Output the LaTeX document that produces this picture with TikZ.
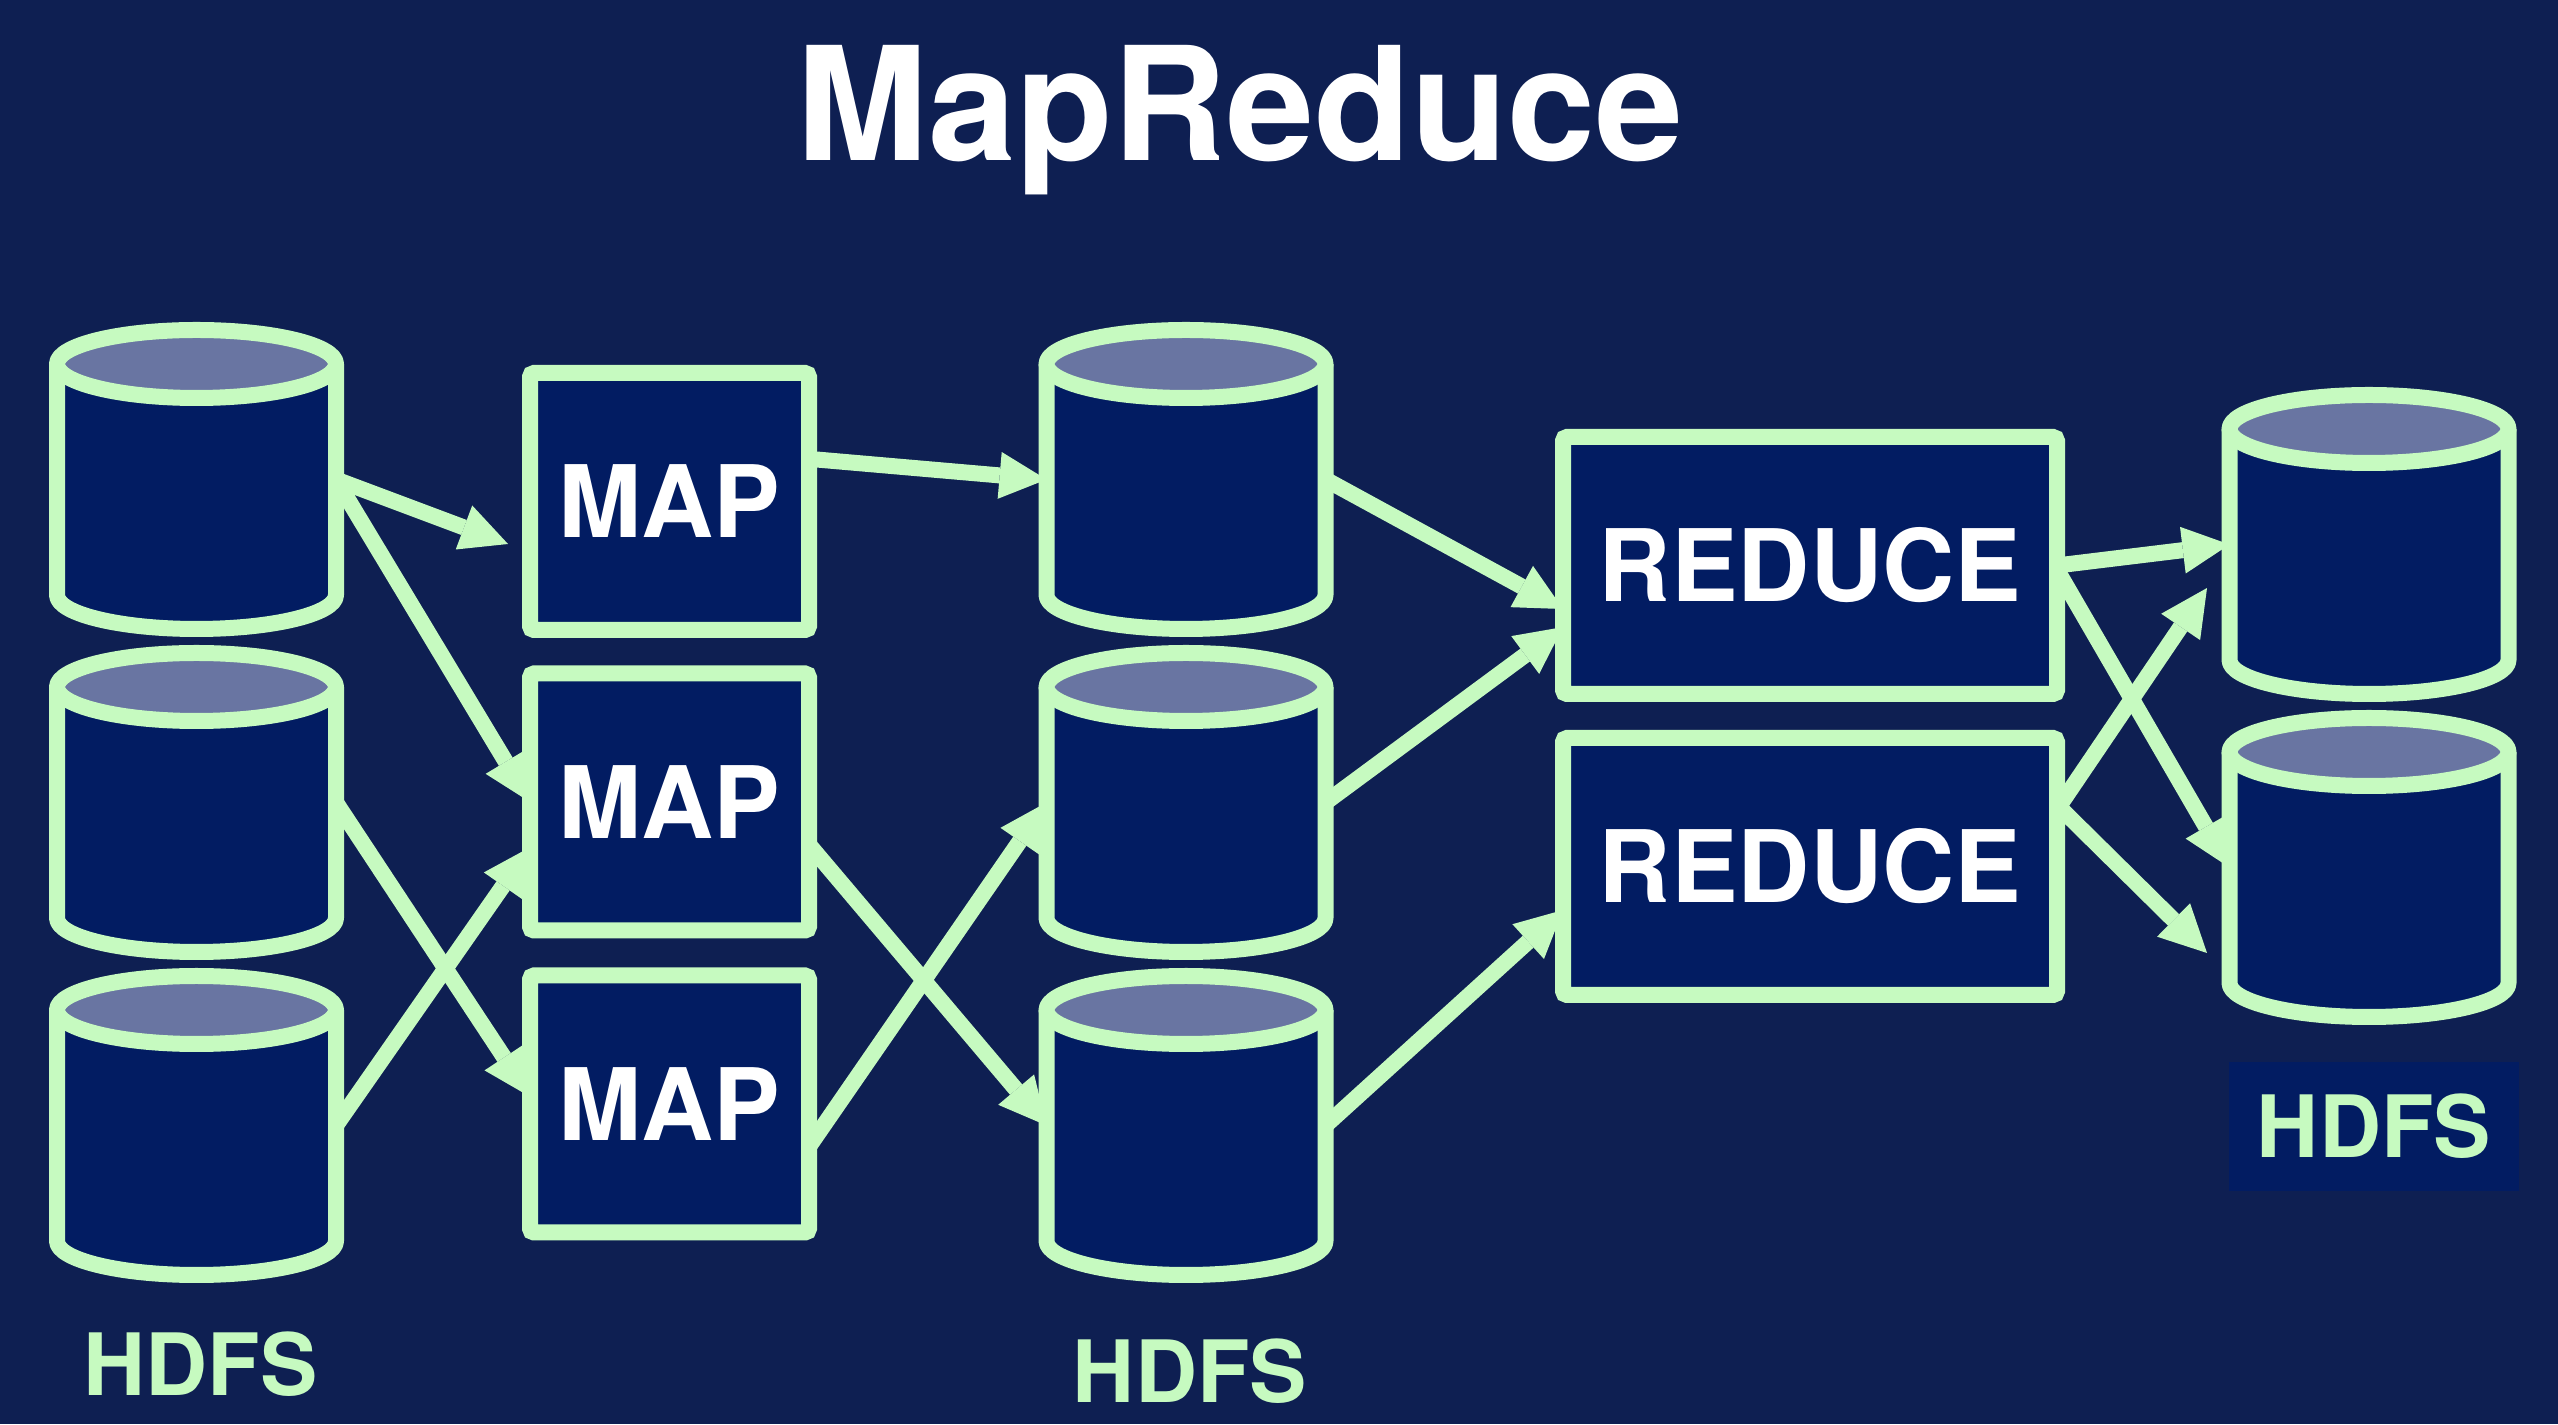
\documentclass[tikz,border=0pt]{standalone}
\usepackage{fontspec}
\setmainfont{TeX Gyre Heros}
\usetikzlibrary{arrows.meta}
\definecolor{bg}{HTML}{0E1F52}
\definecolor{bodyc}{HTML}{021C62}
\definecolor{topc}{HTML}{6975A2}
\definecolor{mint}{HTML}{C6FAC0}
\pgfdeclarelayer{bglayer}
\pgfdeclarelayer{arrlayer}
\pgfsetlayers{bglayer,arrlayer,main}
\tikzset{
  cylline/.style={draw=mint,line width=16pt,line join=round},
  cylbody/.style={rectangle,inner sep=0pt,outer sep=0pt,minimum width=279pt,minimum height=231pt},
  procbox/.style={rectangle,draw=mint,fill=bodyc,line width=16pt,rounded corners=4pt,inner sep=0pt,outer sep=0pt,minimum height=257pt,text=white,font=\fontsize{100}{100}\selectfont\bfseries},
  hdfslabel/.style={inner sep=0pt,text=mint,font=\fontsize{86}{86}\selectfont\bfseries},
  flow/.style={draw=mint,line width=16pt,-{Triangle[length=47pt,width=47pt,line width=0pt]}}
}
\newcommand\dbcyl[3]{%
  \fill[bodyc] (#2-139.5,#3) -- (#2-139.5,#3-231) arc[start angle=180,end angle=360,x radius=139.5pt,y radius=34pt] -- (#2+139.5,#3) -- cycle;
  \draw[cylline] (#2-139.5,#3) -- (#2-139.5,#3-231) arc[start angle=180,end angle=360,x radius=139.5pt,y radius=34pt] -- (#2+139.5,#3);
  \filldraw[cylline,fill=topc] (#2,#3) ellipse[x radius=139.5pt,y radius=34pt];
  \node[cylbody] (#1) at (#2,#3-115.5) {};
}
\begin{document}
\begin{tikzpicture}[x=1pt,y=1pt]
\useasboundingbox (0,0) rectangle (2558,1424);
\begin{pgfonlayer}{bglayer}
  \fill[bg] (0,0) rectangle (2558,1424);
\end{pgfonlayer}

% title
\node[anchor=base,inner sep=0pt,text=white,font=\fontsize{158}{158}\selectfont\bfseries] (title) at (1240,1263) {MapReduce};

% input HDFS cylinders
\dbcyl{cl1}{196.5}{1060}
\dbcyl{cl2}{196.5}{737}
\dbcyl{cl3}{196.5}{414}
% intermediate HDFS cylinders
\dbcyl{cm1}{1186}{1060}
\dbcyl{cm2}{1186}{737}
\dbcyl{cm3}{1186}{414}
% output HDFS cylinders
\dbcyl{cr1}{2369}{995}
\dbcyl{cr2}{2369}{672}

% MAP boxes
\node[procbox,minimum width=279pt] (map1) at (669.5,922.5) {MAP};
\node[procbox,minimum width=279pt] (map2) at (669.5,622) {MAP};
\node[procbox,minimum width=279pt] (map3) at (669.5,320) {MAP};
% REDUCE boxes
\node[procbox,minimum width=494pt] (red1) at (1810,858.5) {REDUCE};
\node[procbox,minimum width=494pt] (red2) at (1810,557.5) {REDUCE};

% labels
\node[hdfslabel,anchor=base] (h1) at (200.5,29) {HDFS};
\node[hdfslabel,anchor=base] (h2) at (1190,22) {HDFS};
\node[hdfslabel,fill=bodyc,minimum width=290pt,minimum height=129pt] (h3) at (2374,297.5) {HDFS};

% free arrow ends
\coordinate (m1in) at (508,880);
\coordinate (r1in) at (2207,836);
\coordinate (r2in) at (2207,471);

\begin{pgfonlayer}{arrlayer}
  \draw[flow] (cl1.east) -- (m1in);
  \draw[flow] (cl1.east) -- (map2.west);
  \draw[flow] (cl2.east) -- (map3.177.5);
  \draw[flow] (cl3.east) -- (map2.198.25);
  \draw[flow] (map1.17) -- (cm1.west);
  \draw[flow] (map2.-17.5) -- (cm3.west);
  \draw[flow] (map3.-17) -- (cm2.west);
  \draw[flow] (cm1.east) -- (red1.190);
  \draw[flow] (cm2.east) -- (red1.194.4);
  \draw[flow] (cm3.east) -- (red2.190);
  \draw[flow] (red1.east) -- (cr1.west);
  \draw[flow] (red1.-1.4) -- (cr2.west);
  \draw[flow] (red2.13.8) -- (r1in);
  \draw[flow] (red2.14.4) -- (r2in);
\end{pgfonlayer}
\end{tikzpicture}
\end{document}
